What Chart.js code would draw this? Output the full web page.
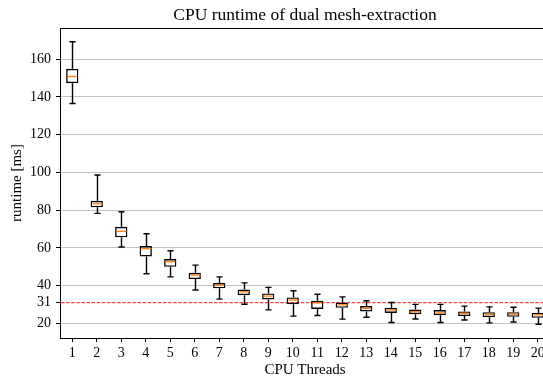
<!DOCTYPE html>
<html>
<head>
<meta charset="utf-8">
<script src="https://cdn.jsdelivr.net/npm/chart.js@4/dist/chart.umd.min.js"></script>
<style>
  html, body { margin: 0; padding: 0; background: #fff; overflow: hidden; }
  #wrap { width: 543px; height: 381px; overflow: hidden; }
</style>
</head>
<body>
<div id="wrap"><canvas id="chart" width="556" height="381"></canvas></div>
<script>
// runtime distribution per thread count (ms)
const threads = ['1','2','3','4','5','6','7','8','9','10','11','12','13','14','15','16','17','18','19','20'];
const whiskerHigh = [169.2, 98.6, 79.2, 67.5, 58.5, 50.9, 44.7, 41.5, 39.1, 37.3, 35.5, 34.1, 32.0, 31.1, 30.1, 30.1, 29.2, 28.8, 28.6, 28.1];
const q3 = [154.9, 85.0, 71.2, 61.0, 54.1, 46.8, 41.4, 38.0, 35.9, 33.8, 32.0, 31.1, 29.2, 28.3, 27.4, 27.1, 26.4, 26.0, 26.0, 25.6];
const median = [150.8, 83.4, 68.8, 59.6, 52.7, 45.6, 40.3, 36.8, 34.5, 32.4, 30.9, 29.9, 28.0, 27.1, 26.2, 25.6, 25.3, 24.8, 24.9, 24.6];
const q1 = [147.3, 81.5, 65.6, 55.5, 50.0, 43.5, 38.6, 35.0, 32.7, 30.2, 27.7, 28.3, 26.4, 25.6, 24.9, 24.4, 23.9, 23.3, 23.5, 23.0];
const whiskerLow = [136.5, 78.3, 60.5, 46.3, 44.7, 37.7, 32.9, 30.2, 27.2, 23.9, 24.2, 22.3, 23.3, 20.5, 22.4, 20.5, 21.8, 20.3, 20.8, 19.6];

const yTicks = [20, 31, 40, 60, 80, 100, 120, 140, 160];
const refLine = 31;
const titleText = 'CPU runtime of dual mesh-extraction';

const serif = '"Liberation Serif", "DejaVu Serif", serif';

// whiskers, caps and medians on top of the floating-bar boxes
const boxWhiskers = {
  id: 'boxWhiskers',
  afterDatasetsDraw(chart) {
    const { ctx, scales: { y } } = chart;
    const meta = chart.getDatasetMeta(0);
    ctx.save();
    meta.data.forEach((bar, i) => {
      const cx = Math.round(bar.x) + 0.5;
      const half = bar.width / 2;
      const cap = half / 2;
      const yHi = y.getPixelForValue(whiskerHigh[i]);
      const yLo = y.getPixelForValue(whiskerLow[i]);
      const yQ3 = y.getPixelForValue(q3[i]);
      const yQ1 = y.getPixelForValue(q1[i]);
      ctx.strokeStyle = '#000';
      ctx.lineWidth = 1.4;
      ctx.beginPath();
      ctx.moveTo(cx, yQ3); ctx.lineTo(cx, yHi);
      ctx.moveTo(cx - cap, yHi); ctx.lineTo(cx + cap, yHi);
      ctx.moveTo(cx, yQ1); ctx.lineTo(cx, yLo);
      ctx.moveTo(cx - cap, yLo); ctx.lineTo(cx + cap, yLo);
      ctx.stroke();
      const yMed = y.getPixelForValue(median[i]);
      ctx.strokeStyle = '#ff7f0e';
      ctx.lineWidth = 1.3;
      ctx.beginPath();
      ctx.moveTo(cx - half + 1.2, yMed); ctx.lineTo(cx + half - 1.2, yMed);
      ctx.stroke();
    });
    ctx.restore();
  }
};

// red dashed reference line, top spine and title
const decorations = {
  id: 'decorations',
  beforeDatasetsDraw(chart) {
    const { ctx, chartArea: a, scales: { y } } = chart;
    const yy = y.getPixelForValue(refLine);
    ctx.save();
    ctx.strokeStyle = 'rgba(255,30,30,0.85)';
    ctx.lineWidth = 1.2;
    ctx.setLineDash([3.5, 1.6]);
    ctx.beginPath();
    ctx.moveTo(a.left + 1, yy); ctx.lineTo(a.right, yy);
    ctx.stroke();
    ctx.restore();
  },
  afterDraw(chart) {
    const { ctx, chartArea: a } = chart;
    ctx.save();
    ctx.strokeStyle = '#000';
    ctx.lineWidth = 1;
    ctx.beginPath();
    ctx.moveTo(a.left, a.top + 0.5); ctx.lineTo(a.right, a.top + 0.5);
    ctx.stroke();
    ctx.fillStyle = '#000';
    ctx.font = '17.5px ' + serif;
    ctx.textAlign = 'center';
    ctx.textBaseline = 'middle';
    ctx.fillText(titleText, (a.left + a.right) / 2, 15);
    ctx.restore();
  }
};

new Chart(document.getElementById('chart'), {
  type: 'bar',
  data: {
    labels: threads,
    datasets: [{
      data: q1.map((lo, i) => [lo, q3[i]]),
      backgroundColor: 'rgba(0,0,0,0)',
      borderColor: '#000',
      borderWidth: 1.4,
      borderSkipped: false,
      barPercentage: 0.5,
      categoryPercentage: 1
    }]
  },
  options: {
    responsive: false,
    devicePixelRatio: 1,
    animation: false,
    layout: { padding: { top: 28, right: 6, left: 0, bottom: 0 } },
    plugins: {
      legend: { display: false },
      tooltip: { enabled: false },
      title: { display: false }
    },
    scales: {
      x: {
        grid: { drawOnChartArea: false, offset: false, tickColor: '#000', tickLength: 4 },
        border: { color: '#000', width: 1 },
        ticks: { color: '#000', font: { family: serif, size: 14 }, padding: 3, maxRotation: 0, autoSkip: false },
        title: { display: true, text: 'CPU Threads', color: '#000', font: { family: serif, size: 15 }, padding: { top: 0, bottom: 2 } },
        afterFit(scale) { scale.height = 43; }
      },
      y: {
        min: 12.3,
        max: 176.5,
        afterBuildTicks(scale) { scale.ticks = yTicks.map(v => ({ value: v })); },
        grid: {
          color: c => (c.tick && c.tick.value === refLine) ? 'rgba(0,0,0,0)' : '#c2c2c2',
          lineWidth: 1,
          tickColor: '#000',
          tickLength: 4
        },
        border: { color: '#000', width: 1 },
        ticks: { color: '#000', font: { family: serif, size: 14 }, padding: 5 },
        title: { display: true, text: 'runtime [ms]', color: '#000', font: { family: serif, size: 15 }, padding: { top: 8, bottom: 0 } },
        afterFit(scale) { scale.width = 60; }
      }
    }
  },
  plugins: [decorations, boxWhiskers]
});
</script>
</body>
</html>
